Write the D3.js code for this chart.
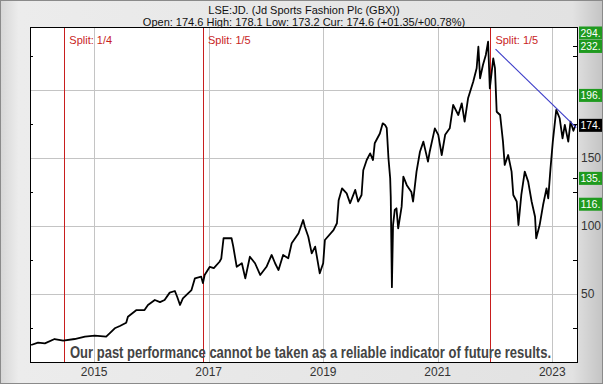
<!DOCTYPE html>
<html>
<head>
<meta charset="utf-8">
<script src="https://cdn.jsdelivr.net/npm/d3@7"></script>
<style>
  body { margin: 0; background: #fff; }
  text { font-family: "Liberation Sans", Arial, sans-serif; }
</style>
</head>
<body>
<script>
"use strict";

var width = 603;
var height = 384;

// price series, time in decimal years, close in pence
var times = [2013.90,2014.02,2014.14,2014.31,2014.46,2014.66,2014.84,2015.01,2015.21,2015.27,
  2015.36,2015.45,2015.56,2015.59,2015.74,2015.88,2015.94,2016.06,2016.15,2016.23,
  2016.32,2016.41,2016.45,2016.50,2016.55,2016.70,2016.76,2016.87,2016.90,2016.93,
  2017.02,2017.09,2017.19,2017.22,2017.26,2017.40,2017.43,2017.49,2017.58,2017.64,
  2017.72,2017.81,2017.90,2018.01,2018.10,2018.16,2018.22,2018.30,2018.39,2018.45,
  2018.57,2018.65,2018.68,2018.74,2018.80,2018.86,2018.94,2019.00,2019.03,2019.18,
  2019.24,2019.27,2019.33,2019.41,2019.47,2019.56,2019.61,2019.67,2019.70,2019.76,
  2019.82,2019.87,2019.90,2019.99,2020.04,2020.08,2020.11,2020.14,2020.17,2020.18,
  2020.20,2020.22,2020.25,2020.28,2020.31,2020.37,2020.40,2020.46,2020.54,2020.57,
  2020.63,2020.69,2020.75,2020.83,2020.86,2020.95,2021.01,2021.07,2021.13,2021.21,
  2021.27,2021.36,2021.42,2021.47,2021.53,2021.62,2021.68,2021.71,2021.74,2021.79,
  2021.84,2021.88,2021.91,2021.97,2022.00,2022.03,2022.09,2022.14,2022.17,2022.23,
  2022.29,2022.32,2022.38,2022.41,2022.46,2022.52,2022.58,2022.64,2022.70,2022.72,
  2022.78,2022.84,2022.90,2022.93,2022.97,2023.01,2023.07,2023.13,2023.18,2023.22,
  2023.28,2023.32,2023.37,2023.41];
var closes = [12.5,14.2,13.7,16.9,15.7,16.9,18.6,19.4,18.6,21,
  24.8,26.5,28.9,33.3,38.2,38.2,41.9,45.6,44,45.6,
  51,52.2,48,41.9,46.8,52.9,61.5,62.7,58,64,
  70,69,73.7,76,91,91,84.8,70,72.6,61.5,
  77.4,72.6,64,70,78.7,72.6,67.6,78.7,76.2,87.3,
  94.6,104.4,99.5,92.1,79.9,84.8,65.2,72.6,89.7,97,
  102,119,127.7,124,116.7,126.5,117.9,122.8,141,148.5,
  153.4,148.5,160.8,168,175.5,174.3,172,149.8,135,121.5,
  55,100.7,111.8,113,98.3,114.2,136.3,130,125,118,
  140,154.6,162,147.3,154.6,171.8,167,152.2,167,171.8,
  189,181.6,190.2,176.7,193.9,206,216,231.8,208.6,218.4,
  225.7,235.5,201.2,223.3,216,184,181.6,162,144.9,152.2,
  140,122.8,118,100.7,122.8,140,132.6,118,106.8,91,
  100.7,115.4,127.7,120.3,142.4,162,185.3,179.2,164.5,174.3,
  162,176.7,170,174.6];

// share splits
var splitTimes = [2014.48, 2016.90, 2021.92];
var splitLabels = ["Split: 1/4", "Split: 1/5", "Split: 1/5"];

// trend line end points
var trendTimes = [2022.01, 2023.42];
var trendValues = [230, 172.3];

// price levels in the right column
var levelValues = [294, 232, 196, 174, 135, 116];
var levelLabels = ["294.", "232.", "196.", "174.", "135.", "116."];
var levelColors = ["#1f9a1f", "#1f9a1f", "#1f9a1f", "#000", "#1f9a1f", "#1f9a1f"];

var yTicks = [50, 100, 150];
var yGrid = [50, 100, 150, 200];
var yMinor = [25, 75, 125, 175, 225];
var xTicks = [2015, 2017, 2019, 2021, 2023];

var title = "LSE:JD. (Jd Sports Fashion Plc (GBX))";
var subtitle = "Open: 174.6 High: 178.1 Low: 173.2 Cur: 174.6 (+01.35/+00.78%)";
var disclaimer = "Our past performance cannot be taken as a reliable indicator of future results.";

var pL = 30, pR = 578, pT = 27, pB = 362;

var svg = d3.select("body").append("svg")
  .attr("width", width)
  .attr("height", height);

// frame background
var defs = svg.append("defs");
var grad = defs.append("linearGradient").attr("id", "bg");
grad.append("stop").attr("offset", "0").attr("stop-color", "#d6d6d6");
grad.append("stop").attr("offset", "0.03").attr("stop-color", "#ececec");
grad.append("stop").attr("offset", "0.95").attr("stop-color", "#e2e2e2");
grad.append("stop").attr("offset", "1").attr("stop-color", "#c4c4c4");

svg.append("rect")
  .attr("x", 0.5).attr("y", 0.5)
  .attr("width", width - 1).attr("height", height - 1)
  .attr("fill", "url(#bg)")
  .attr("stroke", "#8a8a8a");

var x = d3.scaleLinear().domain([2013.88, 2023.45]).range([pL, pR]);
var y = d3.scaleLinear().domain([0, 246.3]).range([pB, pT]);

// plot area
svg.append("rect")
  .attr("x", pL).attr("y", pT)
  .attr("width", pR - pL).attr("height", pB - pT)
  .attr("fill", "#fff");

var g = svg.append("g");

// grid
g.selectAll(".hgrid").data(yGrid).enter().append("line")
  .attr("x1", pL).attr("x2", pR)
  .attr("y1", d => Math.round(y(d)) + 0.5).attr("y2", d => Math.round(y(d)) + 0.5)
  .attr("stroke", "#c4c4c4");
g.selectAll(".vgrid").data(xTicks).enter().append("line")
  .attr("x1", d => Math.round(x(d)) + 0.5).attr("x2", d => Math.round(x(d)) + 0.5)
  .attr("y1", pT).attr("y2", pB)
  .attr("stroke", "#c4c4c4");

// minor ticks on both sides
g.selectAll(".lt").data(yMinor).enter().append("line")
  .attr("x1", pL).attr("x2", pL + 3)
  .attr("y1", d => Math.round(y(d)) + 0.5).attr("y2", d => Math.round(y(d)) + 0.5)
  .attr("stroke", "#000");
g.selectAll(".rt").data(yMinor.concat([232, 135])).enter().append("line")
  .attr("x1", pR - 5).attr("x2", pR)
  .attr("y1", d => Math.round(y(d)) + 0.5).attr("y2", d => Math.round(y(d)) + 0.5)
  .attr("stroke", "#000");

// split lines
g.selectAll(".split").data(splitTimes).enter().append("line")
  .attr("x1", d => Math.round(x(d)) + 0.5).attr("x2", d => Math.round(x(d)) + 0.5)
  .attr("y1", pT).attr("y2", pB)
  .attr("stroke", "#c81e1e");
g.selectAll(".splitlabel").data(splitTimes).enter().append("text")
  .attr("x", d => x(d) + 5)
  .attr("y", 44)
  .attr("font-size", "11px")
  .attr("fill", "#c81e1e")
  .text((d, i) => splitLabels[i]);

// disclaimer
svg.append("text")
  .attr("x", 70).attr("y", 358)
  .attr("textLength", 481)
  .attr("lengthAdjust", "spacingAndGlyphs")
  .attr("font-size", "16px")
  .attr("font-weight", "bold")
  .attr("fill", "#444")
  .text(disclaimer);

// price line
var line = d3.line()
  .x((d, i) => x(times[i]))
  .y(d => y(d));
g.append("path")
  .datum(closes)
  .attr("fill", "none")
  .attr("stroke", "#000")
  .attr("stroke-width", 1.8)
  .attr("stroke-linejoin", "round")
  .attr("d", line);

// trend line
g.append("line")
  .attr("x1", x(trendTimes[0])).attr("y1", y(trendValues[0]))
  .attr("x2", x(trendTimes[1])).attr("y2", y(trendValues[1]))
  .attr("stroke", "#3c3cc8")
  .attr("stroke-width", 1.2);

// plot border
svg.append("rect")
  .attr("x", pL + 0.5).attr("y", pT + 0.5)
  .attr("width", pR - pL - 1).attr("height", pB - pT)
  .attr("fill", "none")
  .attr("stroke", "#000");

// x labels
svg.selectAll(".xl").data(xTicks).enter().append("text")
  .attr("x", d => x(d))
  .attr("y", 376)
  .attr("text-anchor", "middle")
  .attr("font-size", "12px")
  .attr("fill", "#333")
  .text(d3.format("d"));

// y labels on the right
svg.selectAll(".yl").data(yTicks).enter().append("text")
  .attr("x", 581)
  .attr("y", d => y(d) + 4.5)
  .attr("font-size", "12px")
  .attr("fill", "#333")
  .text(d => d);

// level boxes, the ones above the plot are pinned to its top
var boxes = svg.selectAll(".lv").data(levelValues).enter().append("g")
  .attr("transform", d => "translate(579," + Math.max(y(d), pT + 6) + ")");
boxes.append("rect")
  .attr("x", 0).attr("y", -6.5)
  .attr("width", 23).attr("height", 13)
  .attr("fill", (d, i) => levelColors[i]);
boxes.append("text")
  .attr("x", 1.5).attr("y", 4)
  .attr("font-size", "11px")
  .attr("textLength", 20)
  .attr("lengthAdjust", "spacingAndGlyphs")
  .attr("fill", "#fff")
  .text((d, i) => levelLabels[i]);

// titles
svg.append("text")
  .attr("x", 304).attr("y", 14)
  .attr("text-anchor", "middle")
  .attr("font-size", "11px")
  .attr("fill", "#111")
  .text(title);
svg.append("text")
  .attr("x", 304).attr("y", 26)
  .attr("text-anchor", "middle")
  .attr("font-size", "11px")
  .attr("fill", "#111")
  .text(subtitle);
</script>
</body>
</html>
